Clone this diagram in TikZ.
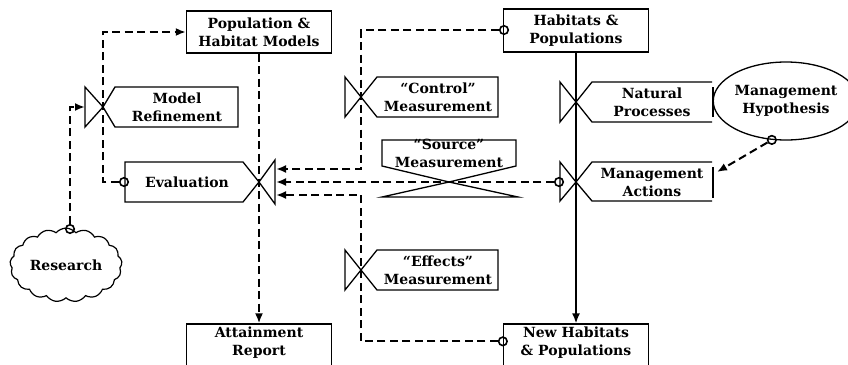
\documentclass[tikz,border=0pt]{standalone}
\usepackage{fontspec}
\setmainfont{DejaVu Serif}
\usetikzlibrary{shapes.geometric,shapes.symbols,arrows.meta,calc}
\begin{document}
\begin{tikzpicture}[x=1pt,y=-1pt,
  lbl/.style={font=\bfseries\fontsize{14}{18}\selectfont, align=center, inner sep=0pt},
  boxn/.style={draw, line width=1.3pt, minimum width=145pt, minimum height=42pt, inner sep=0pt},
  shp/.style={line width=1.3pt, line join=miter},
  flow/.style={line width=2pt, dash pattern=on 8pt off 4.5pt, -{Latex[length=10pt,width=8pt]}},
  solidflow/.style={line width=1.6pt, -{Latex[length=10pt,width=8pt]}},
  tap/.style={circle, draw, line width=1.6pt, inner sep=0pt, minimum size=8.5pt}
]
\useasboundingbox (0,0) rectangle (848,364);

% boxes
\node[boxn] (pop) at (259,32) {};
\node[lbl] (poptxt) at (259,32) {Population \&\\Habitat Models};
\node[boxn, minimum height=43pt] (hab) at (576,30.5) {};
\node[lbl] (habtxt) at (576,30.5) {Habitats \&\\Populations};
\node[boxn, minimum height=46pt] (att) at (259,347) {};
\node[lbl] (atttxt) at (259,343) {Attainment\\Report};
\node[boxn, minimum height=46pt] (nh) at (576,347) {};
\node[lbl] (nhtxt) at (576,343) {New Habitats\\\& Populations};

% Model Refinement gate
\coordinate (mrC) at (103,107);
\coordinate (mrin) at (85,107);
\draw[shp] (85,87) -- (85,127) -- (mrC) -- cycle;
\draw[shp] (mrC) -- (115,87) -- (238,87) -- (238,127) -- (115,127) -- cycle;
\node[lbl] (mr) at (177,107) {Model\\Refinement};

% Control gate
\coordinate (ctC) at (361,97);
\draw[shp] (345,77) -- (345,117) -- (ctC) -- cycle;
\draw[shp] (ctC) -- (377,77) -- (498,77) -- (498,117) -- (377,117) -- cycle;
\node[lbl] (ct) at (438,97) {“Control”\\Measurement};

% Effects gate
\coordinate (efC) at (361,270);
\draw[shp] (345,250) -- (345,290) -- (efC) -- cycle;
\draw[shp] (efC) -- (377,250) -- (498,250) -- (498,290) -- (377,290) -- cycle;
\node[lbl] (ef) at (438,270) {“Effects”\\Measurement};

% Natural Processes gate
\coordinate (npC) at (576,102);
\draw[shp] (560,82) -- (560,122) -- (npC) -- cycle;
\draw[shp] (712,82) -- (592,82) -- (npC) -- (592,122) -- (712,122);
\draw[shp] (713,87) -- (713,117);
\node[lbl] (np) at (652,102) {Natural\\Processes};

% Management Actions gate
\coordinate (maC) at (576,182);
\draw[shp] (560,162) -- (560,201) -- (maC) -- cycle;
\draw[shp] (712,162) -- (592,162) -- (maC) -- (592,201) -- (712,201);
\draw[shp] (713,167) -- (713,198);
\node[lbl] (ma) at (652,182) {Management\\Actions};
\coordinate (mahyp) at (717,172);

% Evaluation gate
\coordinate (evC) at (259,182);
\draw[shp] (evC) -- (243,162) -- (125,162) -- (125,202) -- (243,202) -- cycle;
\draw[shp] (275,160) -- (275,204) -- (evC) -- cycle;
\node[lbl] (ev) at (187,182) {Evaluation};
\coordinate (ein1) at (276,169);
\coordinate (ein2) at (276,182);
\coordinate (ein3) at (276,195);

% Source gate
\coordinate (soC) at (449,182);
\draw[shp] (soC) -- (382,166) -- (382,140) -- (516,140) -- (516,166) -- cycle;
\draw[shp] (382,197) -- (518,197) -- (soC) -- cycle;
\node[lbl] (so) at (449,153) {“Source”\\Measurement};

% ellipse and cloud
\node[ellipse, draw, shp, minimum width=120pt, minimum height=78pt, lbl] (hyp) at (786,101) {Management\\Hypothesis};
\node[cloud, draw, line width=1.2pt, cloud puffs=17, cloud puff arc=100, aspect=1.55, minimum width=112pt, minimum height=72pt, lbl] (res) at (66,265) {Research};

% taps
\node[tap] (t1) at (504,30) {};
\node[tap] (t2) at (559,182) {};
\node[tap] (t3) at ($(nh.north west)+(0,18)$) {};
\node[tap] (t4) at (124,182) {};
\node[tap] (t5) at (70,229) {};
\node[tap] (t6) at (hyp.-110) {};

% connectors
\draw[flow] (t1) -| (ctC) |- (ein1);
\draw[flow] (t2) -- (ein2);
\draw[flow] (t3) -| (efC) |- (ein3);
\draw[flow] (pop.south) -- (att.north);
\draw[solidflow] (hab.south) -- (nh.north);
\draw[flow] (t4) -| (mrC) |- (pop.west);
\draw[flow] (t5) |- (mrin);
\draw[flow] (t6) -- (mahyp);
\end{tikzpicture}
\end{document}
